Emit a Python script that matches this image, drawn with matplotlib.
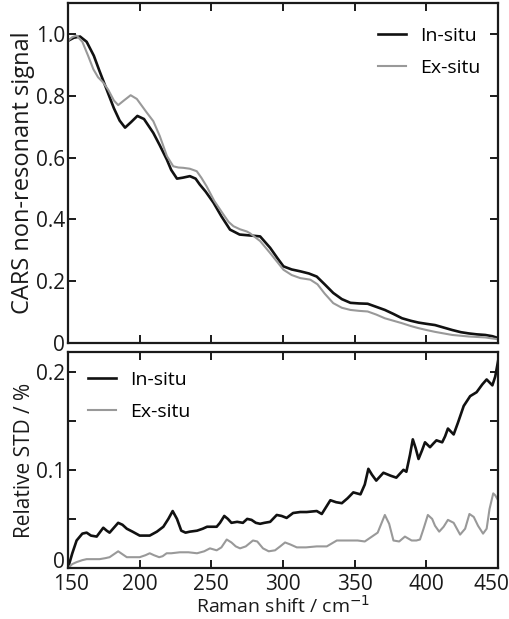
import matplotlib
matplotlib.use("Agg")
import matplotlib.pyplot as plt
from matplotlib.ticker import FixedLocator
from matplotlib.transforms import ScaledTranslation

plt.rcParams['font.family'] = ['Open Sans', 'DejaVu Sans']
plt.rcParams['font.size'] = 15

# top panel: CARS non-resonant signal
top_in_x = [150, 154, 158.4, 163, 168, 172, 177, 182, 186, 189.8, 194, 198.4, 203, 209.5, 214, 218.9, 222, 226, 230, 235,
            239, 241.9, 246, 251.5, 257, 263, 269.7, 277, 284, 291, 296, 300.3, 306, 312, 318, 323.5, 329, 335,
            341, 347, 353, 359, 365, 371, 377, 383, 389, 394.5, 400, 406, 412, 418, 424, 429.5, 435, 441, 446, 450]
top_in_y = [0.978, 0.988, 0.992, 0.975, 0.93, 0.88, 0.82, 0.76, 0.72, 0.697, 0.715, 0.735, 0.725, 0.68, 0.64, 0.594, 0.56, 0.532, 0.535, 0.54,
            0.532, 0.513, 0.49, 0.454, 0.41, 0.367, 0.351, 0.348, 0.345, 0.308, 0.275, 0.248, 0.238, 0.232, 0.225, 0.215, 0.19, 0.162,
            0.142, 0.13, 0.128, 0.127, 0.117, 0.107, 0.094, 0.08, 0.072, 0.066, 0.062, 0.058, 0.05, 0.042, 0.035, 0.031, 0.028, 0.026, 0.022, 0.016]
top_ex_x = [150, 153, 156, 160, 164, 167.7, 171, 174.6, 178, 182, 185, 189, 193.7, 198, 204.9, 209.5, 214, 219, 223.4, 227, 230.4, 235,
            239.8, 243, 246.7, 252, 258.4, 262, 265.4, 270, 274.7, 277, 284, 291, 296, 300.3, 306, 312, 319, 324, 329, 335,
            341, 347, 353, 359, 365, 371, 377, 383, 389, 394.5, 400, 406, 412, 418, 429.5, 441, 450]
top_ex_y = [0.978, 0.99, 0.995, 0.975, 0.93, 0.886, 0.86, 0.843, 0.82, 0.785, 0.77, 0.785, 0.802, 0.79, 0.746, 0.718, 0.67, 0.605, 0.572, 0.568, 0.567, 0.564,
            0.556, 0.535, 0.507, 0.46, 0.416, 0.392, 0.378, 0.368, 0.361, 0.355, 0.33, 0.291, 0.262, 0.237, 0.22, 0.21, 0.205, 0.19, 0.16, 0.129,
            0.114, 0.107, 0.104, 0.102, 0.092, 0.08, 0.072, 0.064, 0.055, 0.048, 0.042, 0.036, 0.031, 0.026, 0.021, 0.018, 0.012]

# bottom panel: relative STD
bot_in_x = [150, 153, 156, 160, 163, 166, 170, 174.6, 177, 179, 182, 185, 188, 191, 195, 200, 204, 207, 212, 216.5, 220, 223, 226, 229,
            232, 235, 240, 244, 247, 250, 253.7, 256, 259, 261.5, 264, 268, 272, 275, 278, 281, 284, 287, 291, 295.6, 299, 302.5,
            307, 312, 316.5, 323.5, 327, 330, 333, 337, 341, 345, 349, 354, 357, 359.5, 362, 365, 370, 375, 379, 384, 386,
            388.5, 390.5, 392.5, 394.5, 397, 399, 402.5, 405, 407, 411, 413, 415, 419, 422, 426, 430.5, 435, 439, 442, 446, 448, 450]
bot_in_y = [0.0, 0.015, 0.028, 0.035, 0.036, 0.033, 0.032, 0.041, 0.038, 0.036, 0.041, 0.046, 0.044, 0.040, 0.037, 0.033, 0.033, 0.033, 0.037, 0.042, 0.05, 0.058, 0.05, 0.038,
            0.036, 0.037, 0.038, 0.040, 0.042, 0.042, 0.042, 0.046, 0.053, 0.050, 0.046, 0.047, 0.046, 0.050, 0.049, 0.046, 0.045, 0.046, 0.047, 0.054, 0.053, 0.051,
            0.056, 0.057, 0.057, 0.058, 0.055, 0.062, 0.069, 0.067, 0.066, 0.071, 0.077, 0.075, 0.085, 0.101, 0.095, 0.089, 0.097, 0.094, 0.092, 0.100, 0.098,
            0.115, 0.131, 0.122, 0.111, 0.12, 0.128, 0.123, 0.127, 0.130, 0.128, 0.134, 0.142, 0.136, 0.148, 0.165, 0.175, 0.179, 0.187, 0.192, 0.186, 0.195, 0.211]
bot_ex_x = [150, 153, 156, 160, 163, 167, 172, 176, 179, 182, 185, 188, 191, 196, 200, 204, 207, 210, 213.6, 216, 218.8, 222, 228, 234, 240,
            245, 249, 253.7, 257, 260.7, 264, 267, 270, 274, 279, 282, 286, 290, 294.4, 298, 301.4, 305, 309.6, 316, 323.5, 330.5,
            334, 337.5, 342, 346.8, 352, 357, 360, 363, 366, 368.5, 371, 374, 377, 381, 385, 389.7, 393, 395.5, 398, 401, 404, 406,
            408.9, 412, 415, 419, 423.5, 427, 430, 433, 436, 439.5, 442, 444, 446.6, 448, 450]
bot_ex_y = [0.0, 0.004, 0.006, 0.008, 0.009, 0.009, 0.009, 0.010, 0.011, 0.014, 0.017, 0.014, 0.011, 0.011, 0.011, 0.013, 0.015, 0.013, 0.011, 0.012, 0.015, 0.015, 0.016, 0.016, 0.015,
            0.017, 0.020, 0.018, 0.021, 0.029, 0.026, 0.022, 0.020, 0.022, 0.028, 0.027, 0.020, 0.017, 0.018, 0.022, 0.026, 0.024, 0.021, 0.021, 0.022, 0.022,
            0.025, 0.028, 0.028, 0.028, 0.028, 0.027, 0.030, 0.033, 0.036, 0.045, 0.054, 0.045, 0.028, 0.027, 0.032, 0.028, 0.028, 0.029, 0.040, 0.054, 0.050, 0.043,
            0.037, 0.042, 0.049, 0.046, 0.034, 0.040, 0.055, 0.052, 0.043, 0.035, 0.040, 0.060, 0.076, 0.074, 0.069]

x_ticks = [150, 200, 250, 300, 350, 400, 450]
top_yticks = [0, 0.2, 0.4, 0.6, 0.8, 1.0]
top_ylabels = ['0', '0.2', '0.4', '0.6', '0.8', '1.0']
bot_yticks = [0, 0.1, 0.2]
bot_ylabels = ['0', '0.1', '0.2']

black = '#111111'
grey = '#999999'
textc = '#1a1a1a'

fig = plt.figure(figsize=(5.09, 6.19), dpi=100)
ax1 = fig.add_axes([0.1336, 0.4459, 0.845, 0.549])
ax2 = fig.add_axes([0.1336, 0.0824, 0.845, 0.349])

ax1.plot(top_in_x, top_in_y, color=black, lw=1.9, label='In-situ', solid_joinstyle='round')
ax1.plot(top_ex_x, top_ex_y, color=grey, lw=1.5, label='Ex-situ', solid_joinstyle='round')
ax2.plot(bot_in_x, bot_in_y, color=black, lw=1.9, label='In-situ', solid_joinstyle='round')
ax2.plot(bot_ex_x, bot_ex_y, color=grey, lw=1.5, label='Ex-situ', solid_joinstyle='round')

ax1.set_xlim(150, 450)
ax1.set_ylim(0, 1.1)
ax1.set_yticks(top_yticks)
ax1.set_yticklabels(top_ylabels)
ax1.set_xticks(x_ticks)
ax1.set_xticklabels([])
ax1.set_ylabel('CARS non-resonant signal', fontsize=17, color=textc, labelpad=1)

ax2.set_xlim(150, 450)
ax2.set_ylim(0, 0.22)
ax2.set_yticks(bot_yticks)
ax2.set_yticklabels(bot_ylabels)
ax2.yaxis.set_minor_locator(FixedLocator([0.05, 0.15]))
ax2.set_xticks(x_ticks)
ax2.set_xlabel('Raman shift / cm$^{-1}$', fontsize=14, color=textc, labelpad=0)
ax2.set_ylabel('Relative STD / %', fontsize=15, color=textc, labelpad=1)

for ax in (ax1, ax2):
    for s in ax.spines.values():
        s.set_linewidth(1.6)
        s.set_color('#1a1a1a')
    ax.tick_params(which='both', direction='in', top=True, right=True, width=1.4, length=6,
                   colors='#1a1a1a', labelcolor=textc, labelsize=15)
    ax.tick_params(axis='y', pad=2)
    ax.tick_params(axis='x', pad=4.5)

# keep the last x tick label inside the picture, nudge the corner labels apart
lab = ax2.get_xticklabels()[-1]
lab.set_transform(lab.get_transform() + ScaledTranslation(-7 / 100, 0, fig.dpi_scale_trans))
lab0 = ax2.get_xticklabels()[0]
lab0.set_transform(lab0.get_transform() + ScaledTranslation(3 / 100, 0, fig.dpi_scale_trans))
ylab0 = ax2.get_yticklabels()[0]
ylab0.set_transform(ylab0.get_transform() + ScaledTranslation(0, 8 / 100, fig.dpi_scale_trans))

ax1.legend(loc='upper right', frameon=False, handlelength=1.45, handletextpad=0.7, fontsize=14,
           borderaxespad=0.3, labelspacing=0.7, bbox_to_anchor=(0.99, 0.97))
ax2.legend(loc='upper left', frameon=False, handlelength=1.45, handletextpad=0.7, fontsize=14,
           borderaxespad=0.3, labelspacing=0.7, bbox_to_anchor=(0.015, 0.975))

fig.savefig('out.png', dpi=100)
